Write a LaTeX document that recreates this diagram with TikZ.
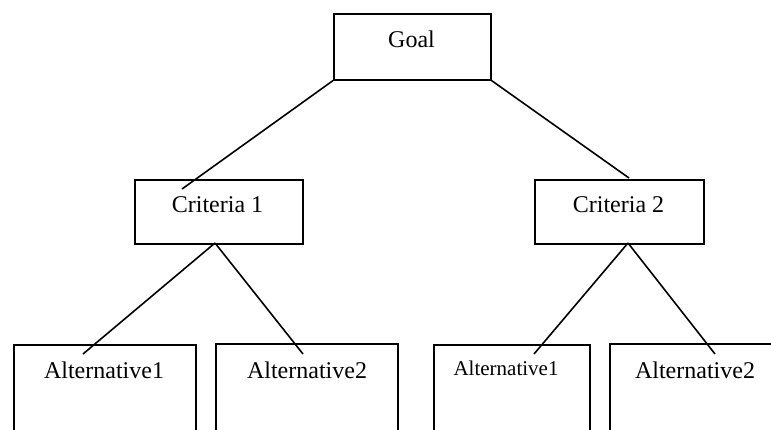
\documentclass[tikz,border=0pt]{standalone}
\usepackage{fontspec}
\setmainfont{Liberation Serif}
\begin{document}
\begin{tikzpicture}[x=0.5pt,y=-0.5pt,
  box/.style={draw, line width=0.8pt, inner sep=0pt, anchor=north west},
  lbl/.style={anchor=base, inner sep=0pt, font=\fontsize{12}{14}\selectfont},
  lblsmall/.style={anchor=base, inner sep=0pt, font=\fontsize{10.5}{12}\selectfont},
  link/.style={line width=0.8pt}]
\useasboundingbox (0,0) rectangle (771,429);
\clip (0,0) rectangle (771,429);
% boxes
\node[box, minimum width=78.5pt, minimum height=33pt] (goal) at (333,13) {};
\node[box, minimum width=84pt, minimum height=32pt] (c1) at (134,179) {};
\node[box, minimum width=84.5pt, minimum height=32pt] (c2) at (534,179) {};
\node[box, minimum width=91pt, minimum height=48pt] (a11) at (13,344) {};
\node[box, minimum width=91pt, minimum height=48.5pt] (a12) at (215,343) {};
\node[box, minimum width=78pt, minimum height=48pt] (a21) at (433,344) {};
\node[box, minimum width=90.5pt, minimum height=48.5pt] (a22) at (609,343) {};
% labels
\node[lbl] (tgoal) at (411.5,47) {Goal};
\node[lbl] (tc1) at (217.5,212) {Criteria 1};
\node[lbl] (tc2) at (618.5,212) {Criteria 2};
\node[lbl] (ta11) at (104,378) {Alternative1};
\node[lbl] (ta12) at (307,378) {Alternative2};
\node[lblsmall] (ta21) at (506,375) {Alternative1};
\node[lbl] (ta22) at (695,378) {Alternative2};
% connector ends
\coordinate (e1) at (182,189);
\coordinate (e2) at (629,178);
\coordinate (p1) at (215,243);
\coordinate (p2) at (628,243);
\coordinate (f11) at (83,354);
\coordinate (f12) at (303,354);
\coordinate (f21) at (534,354);
\coordinate (f22) at (715,354);
% connectors
\draw[link] (goal.south west) -- (e1);
\draw[link] (goal.south east) -- (e2);
\draw[link] (p1) -- (f11);
\draw[link] (p1) -- (f12);
\draw[link] (p2) -- (f21);
\draw[link] (p2) -- (f22);
\end{tikzpicture}
\end{document}
